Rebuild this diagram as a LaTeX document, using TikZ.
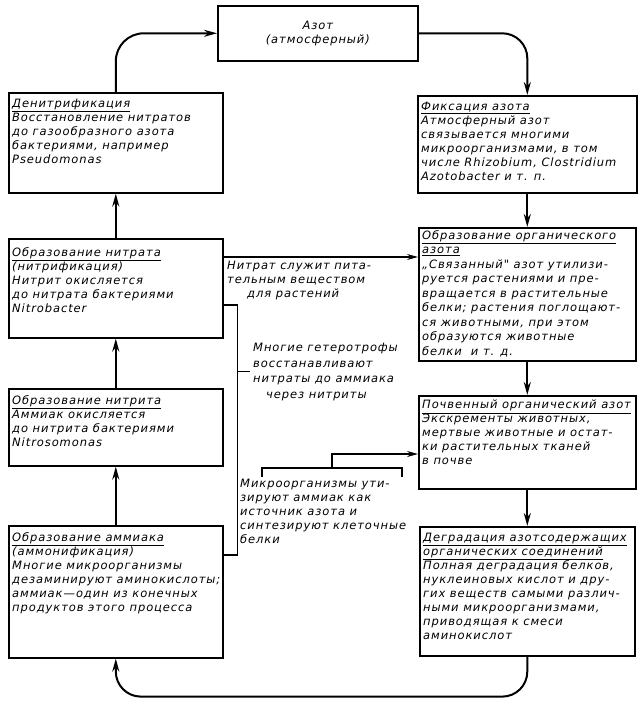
\documentclass[tikz,border=0pt]{standalone}
\usepackage{fontspec}
\newfontfamily\handfont[LetterSpace=8]{DejaVu Sans}
\usetikzlibrary{arrows.meta,positioning}
\newcommand{\ttl}[1]{\underline{#1}}
\begin{document}
\begin{tikzpicture}[
x=1pt, y=-1pt,
font=\handfont\itshape\fontsize{11.5}{14}\selectfont,
stagebox/.style={draw, line width=1.6pt, anchor=north west, inner sep=0pt},
boxtext/.style={anchor=north west, align=left, inner xsep=4pt, inner ysep=7pt},
note/.style={anchor=north west, align=left, inner sep=3pt},
flow/.style={-{Stealth[length=13pt,width=7pt]}, line width=2pt},
link/.style={line width=1.1pt},
linkarrow/.style={link, -{Stealth[length=11pt,width=6pt]}}
]
\useasboundingbox (0,0) rectangle (640,706);

% top of the cycle
\node[stagebox, minimum width=200pt, minimum height=55pt] (azot) at (217,5) {};
\node[align=center] at (azot.center) {Азот\\(атмосферный)};

% left column
\node[stagebox, minimum width=214pt, minimum height=100pt] (den) at (8,92) {};
\node[boxtext] at (den.north west) {\ttl{Денитрификация}\\Восстановление нитратов\\до газообразного азота\\бактериями, например\\Pseudomonas};

\node[stagebox, minimum width=214pt, minimum height=99pt] (nitrate) at (8,238) {};
\node[boxtext, inner ysep=9pt] at (nitrate.north west) {\ttl{Образование нитрата}\\(нитрификация)\\Нитрит окисляется\\до нитрата бактериями\\Nitrobacter};

\node[stagebox, minimum width=214pt, minimum height=77pt] (nitrite) at (8,388) {};
\node[boxtext] at (nitrite.north west) {\ttl{Образование нитрита}\\Аммиак окисляется\\до нитрита бактериями\\Nitrosomonas};

\node[stagebox, minimum width=214pt, minimum height=132pt] (ammon) at (8,525) {};
\node[boxtext] at (ammon.north west) {\ttl{Образование аммиака}\\(аммонификация)\\Многие микроорганизмы\\дезаминируют аминокислоты;\\аммиак—один из конечных\\продуктов этого процесса};

% right column
\node[stagebox, minimum width=219pt, minimum height=97pt] (fix) at (417,95) {};
\node[boxtext] at (fix.north west) {\ttl{Фиксация азота}\\Атмосферный азот\\связывается многими\\микроорганизмами, в том\\числе Rhizobium, Clostridium\\Azotobacter и т. п.};

\node[stagebox, minimum width=217pt, minimum height=133pt] (organic) at (418,227) {};
\node[boxtext, inner ysep=3pt, font=\handfont\itshape\fontsize{11.5}{14.5}\selectfont] at (organic.north west) {\ttl{Образование органического}\\\ttl{азота}\\„Связанный" азот утилизи-\\руется растениями и пре-\\вращается в растительные\\белки; растения поглощают-\\ся животными, при этом\\образуются животные\\белки \ и т. д.};

\node[stagebox, minimum width=217pt, minimum height=93pt] (soil) at (418,395) {};
\node[boxtext, inner ysep=5pt] at (soil.north west) {\ttl{Почвенный органический азот}\\Экскременты животных,\\мертвые животные и остат-\\ки растительных тканей\\в почве};

\node[stagebox, minimum width=215pt, minimum height=129pt] (degr) at (419,526) {};
\node[boxtext] at (degr.north west) {\ttl{Деградация азотсодержащих}\\\ttl{органических соединений}\\Полная деградация белков,\\нуклеиновых кислот и дру-\\гих веществ самыми различ-\\ными микроорганизмами,\\приводящая к смеси\\аминокислот};

% notes in the middle
\node[note] (feed) at (224,258) {Нитрат служит пита-\\тельным веществом\\\hspace{20pt}для растений};
\node[note, font=\handfont\itshape\fontsize{11.5}{15.5}\selectfont] (hetero) at (250,340) {Многие гетеротрофы\\восстанавливают\\нитраты до аммиака\\\hspace{13pt}через нитриты};
\node[note] (micro) at (237,476) {Микроорганизмы ути-\\зируют аммиак как\\источник азота и\\синтезируют клеточные\\белки};

% the cycle
\draw[flow, rounded corners=28pt] (den.north) |- (azot.west);
\draw[flow, rounded corners=25pt] (azot.east) -| (fix.north);
\draw[flow] (fix.south) -- (organic.north);
\draw[flow] (organic.south) -- (soil.north);
\draw[flow] (soil.south) -- (degr.north);
\draw[flow, rounded corners=25pt] (degr.south) -- ++(0,40) -| (ammon.south);
\draw[flow] (ammon.north) -- (nitrite.south);
\draw[flow] (nitrite.north) -- (nitrate.south);
\draw[flow] (nitrate.north) -- (den.south);

% side links
\coordinate (n1) at ([yshift=-19pt]nitrate.north east);
\draw[linkarrow] (n1) -- (n1 -| organic.west);
\coordinate (n2) at ([yshift=-67pt]nitrate.north east);
\coordinate (bend) at ([xshift=14pt]n2);
\coordinate (a2) at ([yshift=-30pt]ammon.north east);
\draw[link] (n2) -- (bend) |- (a2);
\draw[link] (bend |- hetero.west) -- (hetero.west);
\coordinate (s1) at ([yshift=-59pt]soil.north west);
\draw[link] ([xshift=25pt,yshift=-1pt]micro.north west) -- ++(0,-9) -- ++(140,0) -- ++(0,9);
\draw[linkarrow] ([xshift=95pt,yshift=8pt]micro.north west) |- (s1);
\end{tikzpicture}
\end{document}
